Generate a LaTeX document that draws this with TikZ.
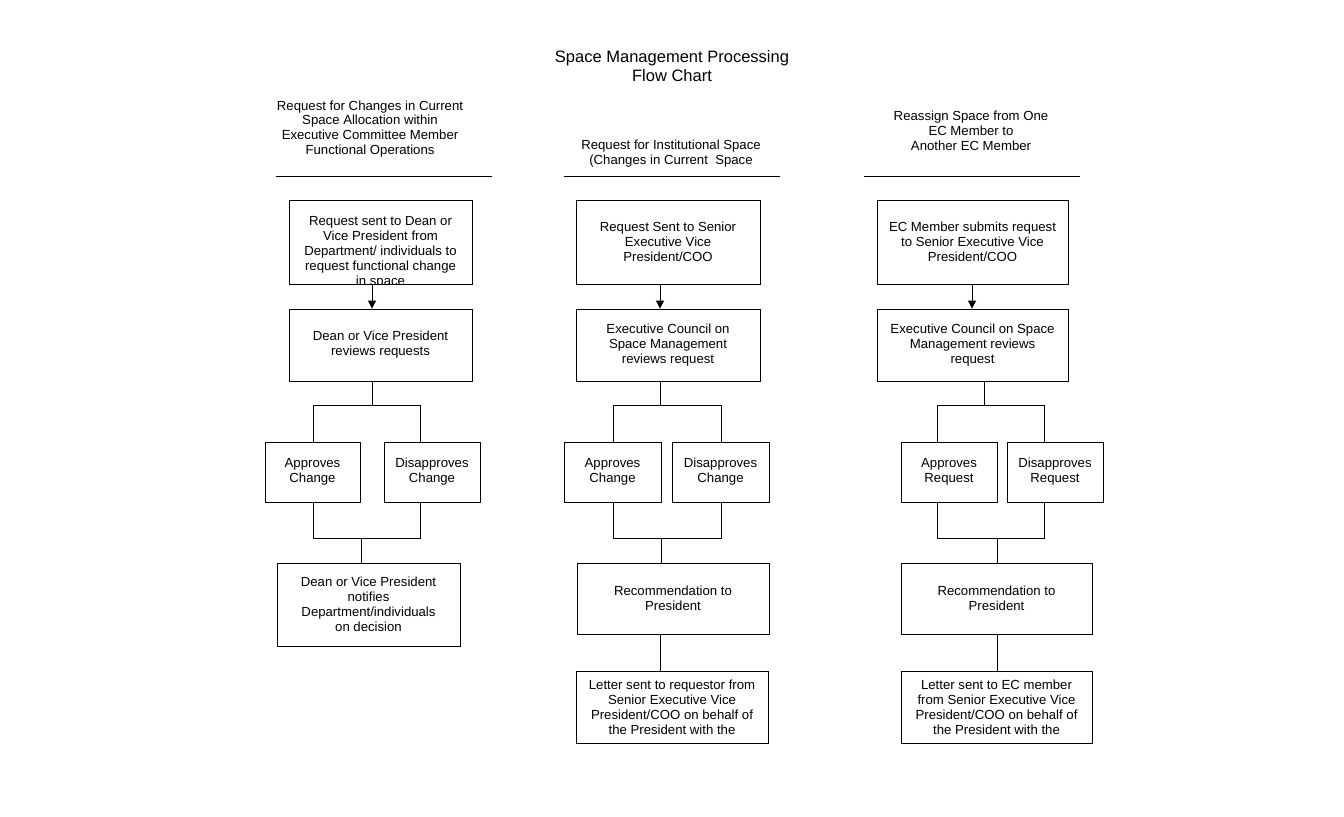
\documentclass[tikz,border=0pt]{standalone}
\usepackage{fontspec}
\setmainfont{Liberation Sans}
\usetikzlibrary{arrows.meta}

\tikzset{
  box/.style={draw, line width=0.5pt, inner sep=1pt},
  wire/.style={line width=0.5pt},
  arr/.style={wire, -{Triangle[width=4.5pt,length=4.5pt]}}
}

\begin{document}
\begin{tikzpicture}[x=0.02cm, y=-0.02cm,
    every node/.style={font=\fontsize{7.5}{8.5}\selectfont, align=center}]

  \path[fill=white, use as bounding box] (0,0) rectangle (1344,816);

  % Title
  \node[font=\fontsize{9.4}{10.8}\selectfont] (title) at (672,66.5)
    {Space Management Processing\\Flow Chart};

  % Column headers and rules
  \node (hd1) at (370,129) {Request for Changes in Current\\Space Allocation within\\Executive Committee Member\\Functional Operations};
  \node (hd2) at (671,153.5) {Request for Institutional Space\\(Changes in Current~ Space};
  \node (hd3) at (971,131) {Reassign Space from One\\EC Member to\\Another EC Member};
  \draw[wire] (276,176) -- (492,176);
  \draw[wire] (564,176) -- (780,176);
  \draw[wire] (864,176) -- (1080,176);

  % Changes within EC member operations
  \node[box, minimum width=3.66cm, minimum height=1.68cm] (req1) at (380.5,242) {};
  \begin{scope}
    \clip (req1.south west) rectangle (req1.north east);
    \node (req1txt) at (380.5,252) {Request sent to Dean or\\Vice President from\\Department/ individuals to\\request functional change\\in space};
  \end{scope}
  \node[box, minimum width=3.66cm, minimum height=1.44cm] (rev1) at (380.5,345) {Dean or Vice President\\reviews requests};
  \node[box, minimum width=1.9cm, minimum height=1.2cm] (app1) at (312.5,472) {Approves\\Change};
  \node[box, minimum width=1.92cm, minimum height=1.2cm] (dis1) at (432,472) {Disapproves\\Change};
  \node[box, minimum width=3.66cm, minimum height=1.66cm] (not1) at (368.5,604.5) {Dean or Vice President\\notifies\\Department/individuals\\on decision};

  \coordinate (a1) at (372,405);
  \coordinate (a1l) at (313,405);
  \coordinate (a1r) at (420,405);
  \coordinate (b1) at (361,538);
  \coordinate (b1l) at (313,538);
  \coordinate (b1r) at (420,538);
  \draw[arr] (req1.south -| a1) -- (rev1.north -| a1);
  \draw[wire] (rev1.south -| a1) -- (a1);
  \draw[wire] (app1.north -| a1l) -- (a1l) -- (a1r) -- (dis1.north -| a1r);
  \draw[wire] (app1.south -| b1l) -- (b1l) -- (b1r) -- (dis1.south -| b1r);
  \draw[wire] (b1) -- (not1.north -| b1);

  % Institutional space
  \node[box, minimum width=3.68cm, minimum height=1.68cm] (req2) at (668,242) {Request Sent to Senior\\Executive Vice\\President/COO};
  \node[box, minimum width=3.68cm, minimum height=1.44cm] (rev2) at (668,345) {Executive Council on\\Space Management\\reviews request};
  \node[box, minimum width=1.94cm, minimum height=1.2cm] (app2) at (612.5,472) {Approves\\Change};
  \node[box, minimum width=1.94cm, minimum height=1.2cm] (dis2) at (720.5,472) {Disapproves\\Change};
  \node[box, minimum width=3.84cm, minimum height=1.42cm] (rec2) at (673,598.5) {Recommendation to\\President};
  \node[box, minimum width=3.84cm, minimum height=1.44cm] (let2) at (672,707) {Letter sent to requestor from\\Senior Executive Vice\\President/COO on behalf of\\the President with the};

  \coordinate (a2) at (660,405);
  \coordinate (a2l) at (613,405);
  \coordinate (a2r) at (721,405);
  \coordinate (b2) at (661,538);
  \coordinate (b2l) at (613,538);
  \coordinate (b2r) at (721,538);
  \draw[arr] (req2.south -| a2) -- (rev2.north -| a2);
  \draw[wire] (rev2.south -| a2) -- (a2);
  \draw[wire] (app2.north -| a2l) -- (a2l) -- (a2r) -- (dis2.north -| a2r);
  \draw[wire] (app2.south -| b2l) -- (b2l) -- (b2r) -- (dis2.south -| b2r);
  \draw[wire] (b2) -- (rec2.north -| b2);
  \draw[wire] (rec2.south -| a2) -- (let2.north -| a2);

  % Reassign space between EC members
  \node[box, minimum width=3.82cm, minimum height=1.68cm] (req3) at (972.5,242) {EC Member submits request\\to Senior Executive Vice\\President/COO};
  \node[box, minimum width=3.82cm, minimum height=1.44cm] (rev3) at (972.5,345) {Executive Council on Space\\Management reviews\\request};
  \node[box, minimum width=1.92cm, minimum height=1.2cm] (app3) at (949,472) {Approves\\Request};
  \node[box, minimum width=1.92cm, minimum height=1.2cm] (dis3) at (1055,472) {Disapproves\\Request};
  \node[box, minimum width=3.82cm, minimum height=1.42cm] (rec3) at (996.5,598.5) {Recommendation to\\President};
  \node[box, minimum width=3.82cm, minimum height=1.44cm] (let3) at (996.5,707) {Letter sent to EC member\\from Senior Executive Vice\\President/COO on behalf of\\the President with the};

  \coordinate (c3) at (972,300);
  \coordinate (a3) at (984,405);
  \coordinate (a3l) at (937,405);
  \coordinate (a3r) at (1044,405);
  \coordinate (b3) at (997,538);
  \coordinate (b3l) at (937,538);
  \coordinate (b3r) at (1044,538);
  \draw[arr] (req3.south -| c3) -- (rev3.north -| c3);
  \draw[wire] (rev3.south -| a3) -- (a3);
  \draw[wire] (app3.north -| a3l) -- (a3l) -- (a3r) -- (dis3.north -| a3r);
  \draw[wire] (app3.south -| b3l) -- (b3l) -- (b3r) -- (dis3.south -| b3r);
  \draw[wire] (b3) -- (rec3.north -| b3);
  \draw[wire] (rec3.south -| b3) -- (let3.north -| b3);

\end{tikzpicture}
\end{document}
